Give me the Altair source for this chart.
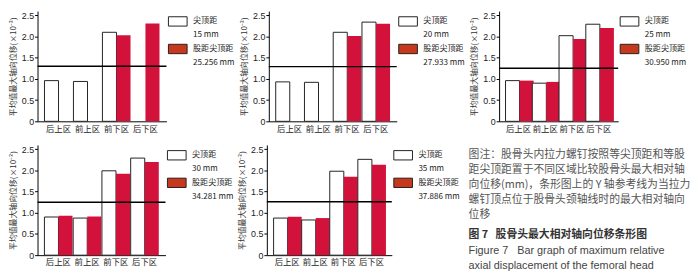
import altair as alt
import pandas as pd

# ---------------- data ----------------
categories = ['后上区', '前上区', '前下区', '后下区']
series = ['尖顶距', '股距尖顶距']
tad_labels = ['15 mm', '20 mm', '25 mm', '30 mm', '35 mm']
ctad_labels = ['25.256 mm', '27.933 mm', '30.950 mm', '34.281 mm', '37.886 mm']
tad_values = [
    [0.96, 0.94, 2.10, None],
    [0.93, 0.92, 2.10, 2.34],
    [0.96, 0.90, 2.02, 2.29],
    [0.90, 0.875, 1.99, 2.29],
    [0.875, 0.83, 1.98, 2.26],
]
ctad_values = [
    [None, None, 2.03, 2.31],
    [None, None, 2.01, 2.30],
    [0.96, 0.93, 1.94, 2.20],
    [0.93, 0.91, 1.92, 2.20],
    [0.906, 0.875, 1.85, 2.13],
]
ref_lines = [1.30, 1.29, 1.25, 1.25, 1.26]
y_ticks = [0, 0.5, 1.0, 1.5, 2.0, 2.5]
y_title = '平均值最大轴向位移(×10⁻²)'

NB = '\u00a0'
note_lines = [
    '图注：股骨头内拉力螺钉按照等尖顶距和等股',
    '距尖顶距置于不同区域比较股骨头最大相对轴',
    '向位移(mm)，条形图上的 Y 轴参考线为当拉力',
    '螺钉顶点位于股骨头颈轴线时的最大相对轴向',
    '位移',
]
fig_title = ['图 7' + NB * 3 + '股骨头最大相对轴向位移条形图']
fig_english = [
    'Figure 7' + NB * 3 + 'Bar graph of maximum relative',
    'axial displacement of the femoral head',
]

# ---------------- style ----------------
RED = '#d3123c'
SWATCH_RED = '#c8381c'
CJK = 'Noto Sans CJK SC'
LAT = 'Liberation Sans'
plot_widths = [131, 130, 121, 130, 127]
PLOT_H = 112


def panel(i):
    rows = []
    for c, a, b in zip(categories, tad_values[i], ctad_values[i]):
        if a is not None:
            rows.append({'区域': c, '组': series[0], '位移': a})
        if b is not None:
            rows.append({'区域': c, '组': series[1], '位移': b})
    df = pd.DataFrame(rows)
    w = plot_widths[i]
    legend_domain = [series[0], tad_labels[i], series[1], ctad_labels[i]]
    legend = alt.Legend(
        title=None,
        orient='none',
        legendX=w + 6,
        legendY=5,
        symbolType='M-2,-1H2V1H-2Z',
        symbolSize=90,
        symbolStrokeWidth=1,
        labelFont=CJK,
        labelFontSize=8.2,
        labelColor='#222',
        labelOffset=10,
        rowPadding=-1,
    )
    y_axis = alt.Axis(
        values=y_ticks,
        title=y_title,
        labelOverlap=False,
        labelExpr="datum.value == 0 ? '0' : format(datum.value, '.1f')",
    )
    y_scale = alt.Scale(domain=[0, 2.6], nice=False)
    bars = alt.Chart(df).mark_bar(strokeWidth=1).encode(
        x=alt.X('区域:N', sort=categories,
                scale=alt.Scale(domain=categories, paddingInner=0.03, paddingOuter=0.24),
                axis=alt.Axis(title=None, labelAngle=0, ticks=False, labelFont=CJK,
                              labelFontSize=8.5, labelPadding=3)),
        xOffset=alt.XOffset('组:N', scale=alt.Scale(domain=series)),
        y=alt.Y('位移:Q', scale=y_scale, axis=y_axis),
        fill=alt.Fill('组:N', scale=alt.Scale(domain=series, range=['white', RED]), legend=None),
        stroke=alt.condition(alt.datum['组'] == series[0], alt.value('#222'), alt.value('transparent')),
    )
    rule = alt.Chart(pd.DataFrame({'参考': [ref_lines[i]]})).mark_rule(
        color='black', strokeWidth=1.5
    ).encode(y=alt.Y('参考:Q', scale=y_scale, axis=y_axis))
    # legend-only layer (no marks drawn: filtered empty), scales carry the legend entries
    key = alt.Chart(pd.DataFrame({'图例': legend_domain})).transform_filter('false').mark_bar().encode(
        fill=alt.Fill('图例:N', sort=legend_domain,
                      scale=alt.Scale(domain=legend_domain,
                                      range=['white', 'transparent', SWATCH_RED, 'transparent']),
                      legend=legend),
        stroke=alt.Stroke('图例:N', sort=legend_domain,
                          scale=alt.Scale(domain=legend_domain,
                                          range=['#222', 'transparent', '#222', 'transparent']),
                          legend=legend),
    )
    return alt.layer(bars, rule, key).resolve_scale(fill='independent', stroke='independent').properties(
        width=w, height=PLOT_H)


def text_layer(lines, y0, y1, font, size, weight, color):
    df = pd.DataFrame({'行': list(range(len(lines))), '文本': lines})
    return alt.Chart(df).mark_text(
        align='left', baseline='middle', font=font, fontSize=size,
        fontWeight=weight, color=color
    ).encode(
        x=alt.value(4),
        y=alt.Y('行:O', scale=alt.Scale(type='point', range=[y0, y1], padding=0), axis=None),
        text='文本:N',
    )


caption = alt.layer(
    text_layer(note_lines, 10, 71, CJK, 11, 'normal', '#555'),
    text_layer(fig_title, 92, 92, CJK, 11, 'bold', '#333'),
    text_layer(fig_english, 108, 123, LAT, 11, 'normal', '#444'),
).resolve_scale(y='independent').properties(width=222, height=123)

row1 = alt.hconcat(panel(0), panel(1), panel(2), spacing=4)
row2 = alt.hconcat(panel(3), panel(4), caption, spacing=3)

chart = alt.vconcat(row1, row2, spacing=11).properties(
    padding=0
).configure_view(stroke='transparent').configure_axis(
    domainColor='black', tickColor='black', labelColor='#222', grid=False,
    labelFont=LAT, labelFontSize=9, tickSize=3, labelPadding=1,
    titleFont=CJK, titleFontSize=8, titleFontWeight='normal', titleColor='#333',
    titlePadding=4,
)

chart.save('out.html', embed_options={'renderer': 'svg', 'actions': False})
